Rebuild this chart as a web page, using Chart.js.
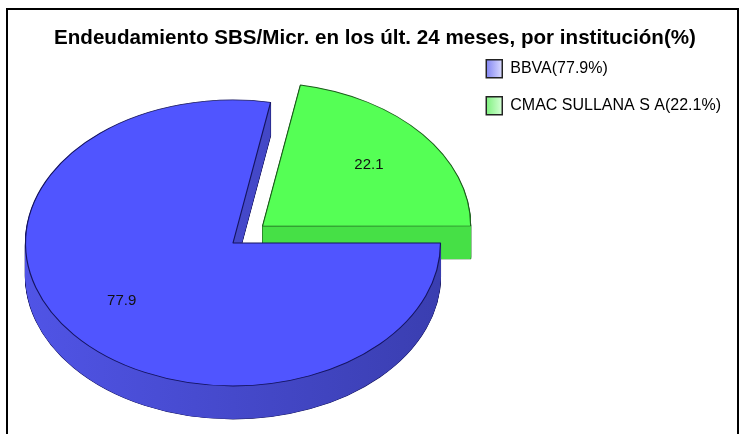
<!DOCTYPE html>
<html>
<head>
<meta charset="utf-8">
<style>
  html, body { margin: 0; padding: 0; background: #fff; overflow: hidden; }
  #frame { position: absolute; left: 6px; top: 8px; width: 729px; height: 440px; border: 2px solid #000; }
  canvas { position: absolute; left: 0; top: 0; }
</style>
<script src="https://cdn.jsdelivr.net/npm/chart.js@4/dist/chart.umd.min.js"></script>
</head>
<body>
<div id="frame"></div>
<canvas id="pieChart" width="743" height="434"></canvas>
<script>
const titleText = "Endeudamiento SBS/Micr. en los últ. 24 meses, por institución(%)";
const institutions = ["BBVA", "CMAC SULLANA S A"];
const shares = [77.9, 22.1];

const faceColors = ["#5055ff", "#55ff55"];
const edgeColors = ["#14145f", "#1c5c1c"];
const sideLeft = ["#5054e6", "#46e046"];
const sideRight = ["#3a3eb0", "#46e046"];
const legendDark = ["#8184f2", "#7df07d"];
const legendLight = ["#d9daff", "#d4ffd4"];

// pie is drawn round by chart.js and squashed to an ellipse here
const pieCenterX = 233, pieCenterY = 243, pieRadiusX = 207.5, pieRadiusY = 143, pieDepth = 33;
const labelNudgeX = [-5, 0], labelNudgeY = [-3, 0];

function layerOf(arc, fill, stroke, width) {
    const layer = Object.create(arc);
    layer.options = Object.assign({}, arc.options, { backgroundColor: fill, borderColor: stroke, borderWidth: width });
    return layer;
}

const fakePie3d = {
    id: "fakePie3d",
    beforeDatasetsDraw(chart) {
        const ctx = chart.ctx;
        const arcs = chart.getDatasetMeta(0).data;
        const r = arcs[0].outerRadius;
        ctx.save();
        ctx.translate(pieCenterX, pieCenterY);
        ctx.scale(pieRadiusX / r, pieRadiusY / r);
        ctx.translate(-arcs[0].x, -arcs[0].y);

        // back slice first, so that the big one covers its side wall
        for (let i = arcs.length - 1; i >= 0; i--) {
            const arc = arcs[i];
            const grad = ctx.createLinearGradient(arc.x - r, 0, arc.x + r, 0);
            grad.addColorStop(0, sideLeft[i]);
            grad.addColorStop(1, sideRight[i]);

            for (let d = pieDepth; d > 0; d--) {
                ctx.save();
                ctx.translate(0, d * r / pieRadiusY);
                layerOf(arc, edgeColors[i], edgeColors[i], 0.8).draw(ctx);
                ctx.restore();
            }
            for (let d = pieDepth; d > 0; d--) {
                ctx.save();
                ctx.translate(0, d * r / pieRadiusY);
                layerOf(arc, grad, grad, 0).draw(ctx);
                ctx.restore();
            }
            layerOf(arc, faceColors[i], edgeColors[i], 0.8).draw(ctx);
        }
        ctx.restore();
        drawValueLabels(chart, arcs, r);
        return false;
    }
};

function drawValueLabels(chart, arcs, r) {
    const ctx = chart.ctx;
    ctx.save();
    ctx.font = "15px 'Liberation Sans'";
    ctx.fillStyle = "#111";
    ctx.textAlign = "center";
    ctx.textBaseline = "middle";
    arcs.forEach((arc, i) => {
        const mid = (arc.startAngle + arc.endAngle) / 2;
        const shift = (arc.options.offset / 4) / r;
        const x = pieCenterX + pieRadiusX * (Math.cos(mid) * (0.667 + shift));
        const y = pieCenterY + pieRadiusY * (Math.sin(mid) * (0.667 + shift));
        ctx.fillText(shares[i].toFixed(1), x + labelNudgeX[i], y + labelNudgeY[i]);
    });
    ctx.restore();
}

new Chart(document.getElementById("pieChart"), {
    type: "pie",
    data: {
        labels: institutions,
        datasets: [{
            data: shares,
            backgroundColor: faceColors,
            offset: [0, 106],
            borderWidth: 0
        }]
    },
    options: {
        responsive: false,
        animation: false,
        rotation: 90,
        radius: 143,
        layout: { padding: { top: 0, right: 12, bottom: 0, left: 19 } },
        plugins: {
            tooltip: { enabled: false },
            title: {
                display: true,
                text: titleText,
                color: "#000",
                font: { family: "'Liberation Sans'", size: 20.6, weight: "bold" },
                padding: { top: 26, bottom: -10 }
            },
            legend: {
                position: "right",
                align: "start",
                fullSize: false,
                labels: {
                    boxWidth: 16,
                    boxHeight: 18,
                    padding: 19,
                    color: "#111",
                    font: { family: "'Liberation Sans'", size: 16 },
                    generateLabels(chart) {
                        return institutions.map((name, i) => {
                            const grad = chart.ctx.createLinearGradient(486, 0, 502, 0);
                            grad.addColorStop(0, legendDark[i]);
                            grad.addColorStop(1, legendLight[i]);
                            return {
                                text: name + "(" + shares[i] + "%)",
                                fillStyle: grad,
                                strokeStyle: "#222",
                                lineWidth: 1.5,
                                index: i
                            };
                        });
                    }
                }
            }
        }
    },
    plugins: [fakePie3d]
});
</script>
</body>
</html>
